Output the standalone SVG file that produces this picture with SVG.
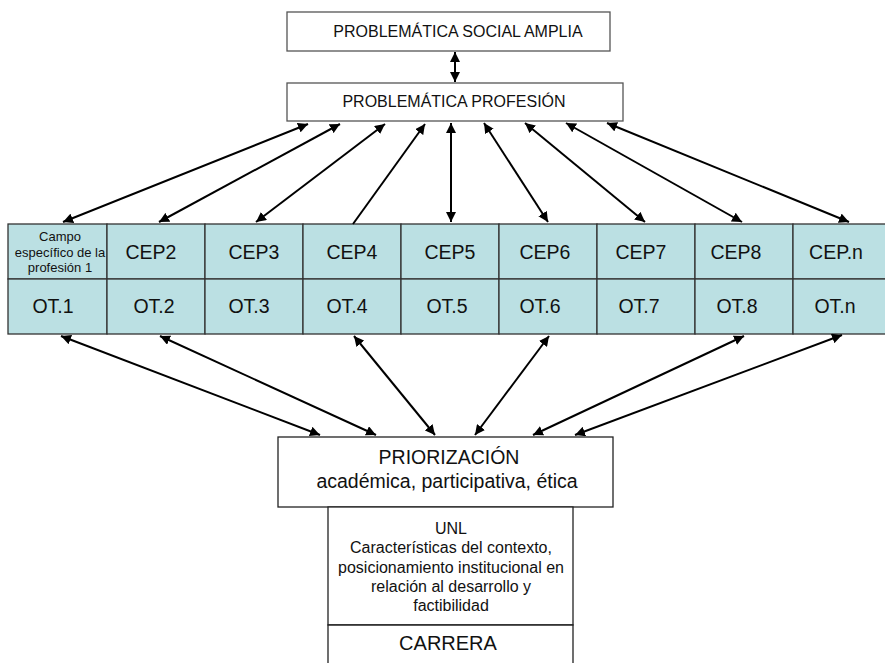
<svg xmlns="http://www.w3.org/2000/svg" width="885" height="663" viewBox="0 0 885 663">
<style>
.box{fill:#fff;stroke:#555;stroke-width:1.3}
.cell{fill:#bbe0e3;stroke:#333;stroke-width:1.3}
text{font-family:"Liberation Sans",Arial,sans-serif;fill:#111;text-anchor:middle;dominant-baseline:central}
.t13{font-size:16px}.t16{font-size:19.5px}.t12{font-size:13px}.t18{font-size:19.5px}.t14{font-size:16px}.t20{font-size:20px}
.c line{stroke:#000;stroke-width:2}
</style>
<defs>
<marker id="ah" viewBox="0 0 10 10" refX="10" refY="5" markerWidth="5" markerHeight="5" orient="auto-start-reverse" markerUnits="strokeWidth"><path d="M0,0L10,5L0,10z" fill="#000"/></marker>
</defs>
<g id="n-social"><rect class="box" x="287" y="12" width="323" height="39"/><text class="t13" x="458" y="31">PROBLEMÁTICA SOCIAL AMPLIA</text></g>
<g id="n-profesion"><rect class="box" x="287" y="83" width="336" height="38"/><text class="t13" x="454" y="101">PROBLEMÁTICA PROFESIÓN</text></g>
<g id="n-grid">
<rect class="cell" x="8" y="224" width="99" height="55"/><rect class="cell" x="107" y="224" width="98" height="55"/><rect class="cell" x="205" y="224" width="98" height="55"/><rect class="cell" x="303" y="224" width="98" height="55"/><rect class="cell" x="401" y="224" width="98" height="55"/><rect class="cell" x="499" y="224" width="98" height="55"/><rect class="cell" x="597" y="224" width="98" height="55"/><rect class="cell" x="695" y="224" width="98" height="55"/><rect class="cell" x="793" y="224" width="98" height="55"/>
<rect class="cell" x="8" y="279" width="99" height="55"/><rect class="cell" x="107" y="279" width="98" height="55"/><rect class="cell" x="205" y="279" width="98" height="55"/><rect class="cell" x="303" y="279" width="98" height="55"/><rect class="cell" x="401" y="279" width="98" height="55"/><rect class="cell" x="499" y="279" width="98" height="55"/><rect class="cell" x="597" y="279" width="98" height="55"/><rect class="cell" x="695" y="279" width="98" height="55"/><rect class="cell" x="793" y="279" width="98" height="55"/>
<text class="t12" x="60" y="236">Campo</text><text class="t12" x="60" y="252">específico de la</text><text class="t12" x="60" y="267">profesión 1</text>
<text class="t16" x="151" y="252">CEP2</text><text class="t16" x="254" y="252">CEP3</text><text class="t16" x="352" y="252">CEP4</text><text class="t16" x="450" y="252">CEP5</text><text class="t16" x="545" y="252">CEP6</text><text class="t16" x="641" y="252">CEP7</text><text class="t16" x="736" y="252">CEP8</text><text class="t16" x="836" y="252">CEP.n</text>
<text class="t16" x="53" y="306">OT.1</text><text class="t16" x="154" y="306">OT.2</text><text class="t16" x="249" y="306">OT.3</text><text class="t16" x="347" y="306">OT.4</text><text class="t16" x="447" y="306">OT.5</text><text class="t16" x="540" y="306">OT.6</text><text class="t16" x="639" y="306">OT.7</text><text class="t16" x="737" y="306">OT.8</text><text class="t16" x="835" y="306">OT.n</text>
</g>
<g id="n-priorizacion"><rect class="box" x="278" y="437" width="335" height="70" style="stroke:#222"/><text class="t18" x="449" y="457">PRIORIZACIÓN</text><text class="t18" x="447" y="481">académica, participativa, ética</text></g>
<g id="n-unl"><rect class="box" x="328" y="507" width="245" height="118" style="stroke:#222"/><text class="t14" x="451" y="528">UNL</text><text class="t14" x="451" y="547">Características del contexto,</text><text class="t14" x="451" y="567">posicionamiento institucional en</text><text class="t14" x="451" y="586">relación al desarrollo y</text><text class="t14" x="451" y="605">factibilidad</text></g>
<g id="n-carrera"><path class="box" d="M328,663V625H573V663" style="stroke:#222"/><text class="t20" x="448" y="643">CARRERA</text></g>
<g class="c" id="connectors">
<line x1="455" y1="52" x2="455" y2="82" marker-start="url(#ah)" marker-end="url(#ah)"/>
<line x1="308" y1="124" x2="63" y2="222" marker-start="url(#ah)" marker-end="url(#ah)"/>
<line x1="340" y1="124" x2="159" y2="222" marker-start="url(#ah)" marker-end="url(#ah)"/>
<line x1="385" y1="124" x2="256" y2="222" marker-start="url(#ah)" marker-end="url(#ah)"/>
<line x1="353" y1="224" x2="425" y2="124" marker-end="url(#ah)"/>
<line x1="451" y1="123" x2="451" y2="222" marker-start="url(#ah)" marker-end="url(#ah)"/>
<line x1="484" y1="123" x2="548" y2="222" marker-start="url(#ah)" marker-end="url(#ah)"/>
<line x1="525" y1="123" x2="645" y2="222" marker-start="url(#ah)" marker-end="url(#ah)"/>
<line x1="566" y1="123" x2="742" y2="222" marker-start="url(#ah)" marker-end="url(#ah)"/>
<line x1="607" y1="123" x2="849" y2="222" marker-start="url(#ah)" marker-end="url(#ah)"/>
<line x1="61" y1="336" x2="320" y2="435" marker-start="url(#ah)" marker-end="url(#ah)"/>
<line x1="160" y1="336" x2="376" y2="435" marker-start="url(#ah)" marker-end="url(#ah)"/>
<line x1="354" y1="336" x2="435" y2="435" marker-start="url(#ah)" marker-end="url(#ah)"/>
<line x1="549" y1="336" x2="475" y2="435" marker-start="url(#ah)" marker-end="url(#ah)"/>
<line x1="744" y1="336" x2="533" y2="435" marker-start="url(#ah)" marker-end="url(#ah)"/>
<line x1="842" y1="335" x2="575" y2="435" marker-start="url(#ah)" marker-end="url(#ah)"/>
</g>
</svg>
